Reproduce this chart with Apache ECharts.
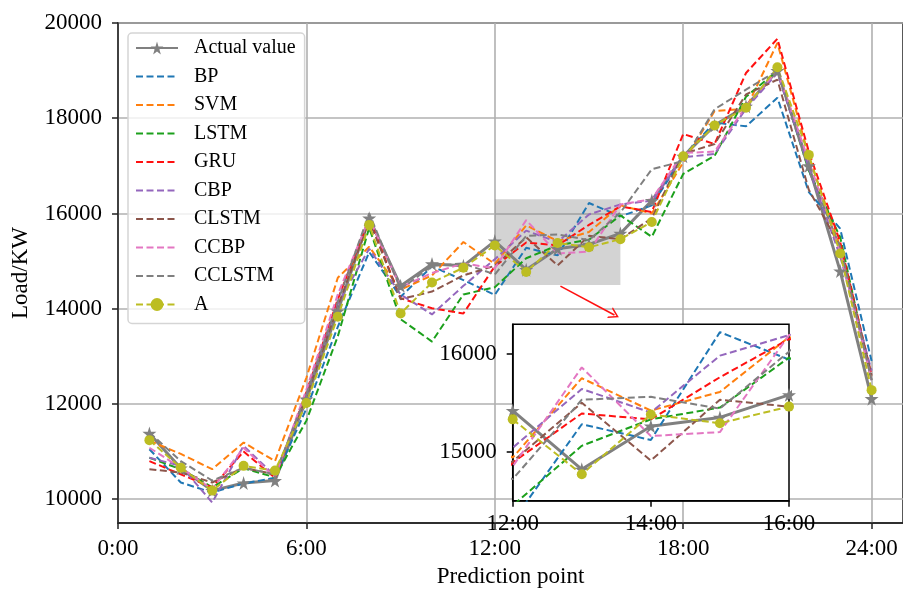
<!DOCTYPE html>
<html><head><meta charset="utf-8">
<script src="https://cdn.jsdelivr.net/npm/echarts@6/dist/echarts.min.js"></script>
<style>html,body{margin:0;padding:0;background:#fff}#c{width:903px;height:593px}</style>
</head><body><div id="c"></div>
<script>
const hours = [1,2,3,4,5,6,7,8,9,10,11,12,13,14,15,16,17,18,19,20,21,22,23,24];
const xTickValues = [0,6,12,18,24];
const yTickValues = [10000,12000,14000,16000,18000,20000];
const insetXTickValues = [12,14,16];
const insetYTickValues = [15000,16000];
const seriesNames = ['Actual value','BP','SVM','LSTM','GRU','CBP','CLSTM','CCBP','CCLSTM','A'];

const actualValue = [11380,10650,10180,10340,10390,12100,13950,15900,14480,14940,14900,15420,14820,15260,15350,15580,16270,17200,17850,18250,19000,17000,14790,12110];
const bp     = [11050,10350,10140,10330,10450,11900,13620,15190,14250,14890,14600,14290,15280,15120,16220,15940,16170,17200,17910,17830,18430,16450,15680,12900];
const svm    = [11230,10950,10630,11190,10800,12550,14650,15300,14400,14700,15400,14940,15750,15420,15610,16170,16000,17070,18150,18200,19580,17200,15300,12500];
const lstm   = [10870,10630,10250,10650,10460,11650,13420,15700,13780,13310,14300,14450,15060,15330,15450,15960,15510,16830,17210,18450,19000,16900,15500,12500];
const gru    = [10800,10520,10250,11000,10450,12250,14200,15890,14220,14010,13900,14890,15390,15330,15760,16150,16030,17670,17460,18950,19670,17300,15400,12600];
const cbp    = [10870,10700,9930,11120,10490,12200,14100,15260,14300,13880,14480,15040,15640,15400,15980,16190,16270,17180,17250,18200,18950,16950,15100,12700];
const clstm  = [10630,10560,10350,10660,10520,12150,14050,15850,14200,14360,14700,14900,15500,14910,15530,15460,15900,17250,17460,18500,18810,16500,15300,12600];
const ccbp   = [11080,10660,10210,11080,10460,12300,14300,15900,14450,14750,14950,14850,15860,15160,15200,16190,16300,17270,17300,18250,19000,17100,15200,12500];
const cclstm = [11400,10800,10390,10660,10520,12200,14150,16000,14410,14900,14950,14720,15530,15560,15440,16020,16930,17100,18190,18600,19000,16900,15300,12500];
const aValue = [11240,10660,10180,10700,10600,12020,13830,15760,13900,14550,14860,15330,14770,15380,15290,15460,15820,17200,17850,18220,19070,17230,15160,12290];

const zoomBox = [[12,14500],[16,16300]];
const arrowFrom = [14.09,14474];
const arrowTo = [15.81,13868];

const allValues = [actualValue,bp,svm,lstm,gru,cbp,clstm,ccbp,cclstm,aValue];
const colors = ['#808080','#1f77b4','#ff7f0e','#1ca01c','#ff1010','#9467bd','#8c564b','#e377c2','#7f7f7f','#bcbd22'];
const FONT = '"Liberation Serif","Times New Roman",serif';
const starPath = 'path://M50,0 L61,35 L98,35 L68,57 L79,91 L50,70 L21,91 L32,57 L2,35 L39,35 Z';

function pairs(vals){ return hours.map((h,i)=>[h,vals[i]]); }

function makeSeries(i, inset){
  const name = seriesNames[i];
  const s = {
    name, type:'line', data: pairs(allValues[i]),
    xAxisIndex: inset?1:0, yAxisIndex: inset?1:0,
    z: inset?7:2, clip:true, animation:false,
    itemStyle:{color:colors[i]},
    lineStyle:{color:colors[i], width:2, type:[7,3.5]},
    symbol:'none'
  };
  if(i===0){
    s.lineStyle = {color:colors[i], width:3, type:'solid'};
    s.symbol = starPath; s.symbolSize = 14; s.showSymbol = true;
  } else if(i===9){
    s.symbol = 'circle'; s.symbolSize = 10; s.showSymbol = true;
  }
  return s;
}

const series = [];
series.push({
  type:'line', data:[], z:1, silent:true, animation:false,
  markArea:{silent:true, itemStyle:{color:'rgba(128,128,128,0.35)'},
    data:[[{coord:zoomBox[0]},{coord:zoomBox[1]}]]},
  markLine:{silent:true, symbol:['none','path://M0,10 L5,0 L10,10 L8.6,10 L5,2.8 L1.4,10 Z'], symbolSize:[12,10],
    label:{show:false}, lineStyle:{color:'#ff1010', width:1.6, type:'solid'},
    data:[[{coord:arrowFrom},{coord:arrowTo}]]}
});
for(let i=0;i<10;i++) series.push(makeSeries(i,false));
for(let i=0;i<10;i++) series.push(makeSeries(i,true));

const legendData = seriesNames.map((n,i)=> (i===0||i===9) ? {name:n} : {name:n, itemStyle:{opacity:0}});

const labelStyle = {color:'#000', fontFamily:FONT, fontSize:23};
const chart = echarts.init(document.getElementById('c'), null, {renderer:'canvas'});
chart.setOption({
  animation:false,
  backgroundColor:'#fff',
  legend:{
    data: legendData, orient:'vertical', left:128, top:33,
    backgroundColor:'rgba(255,255,255,0.8)', borderColor:'#d5d5d5', borderWidth:1.5, borderRadius:4,
    padding:[5,9,9,7], itemGap:8.5, itemWidth:42, itemHeight:16,
    textStyle:{fontFamily:FONT, fontSize:20, color:'#000', padding:[0,0,0,11]},
    selectedMode:false, z:10
  },
  grid:[
    {left:118, top:23, width:788, height:503, show:true, borderColor:'#222', borderWidth:1.5, backgroundColor:'transparent'},
    {left:512.7, top:324.3, width:276.3, height:176.4, show:true, borderColor:'#000', borderWidth:1.5, backgroundColor:'#fff', z:5}
  ],
  xAxis:[
    {type:'value', gridIndex:0, min:0, max:25,
     axisLine:{show:true, lineStyle:{color:'#222', width:1.5}},
     axisTick:{show:true, length:6, lineStyle:{color:'#222', width:1.5}, customValues:xTickValues},
     axisLabel:Object.assign({margin:14, customValues:xTickValues, formatter:v=>v+':00'}, labelStyle),
     splitLine:{show:true, lineStyle:{color:'#b0b0b0', width:1.6}},
     name:'Prediction point', nameLocation:'middle', nameGap:42,
     nameTextStyle:{fontFamily:FONT, fontSize:23, color:'#000'}},
    {type:'value', gridIndex:1, min:12, max:16, z:6,
     axisLine:{show:true, lineStyle:{color:'#000', width:1.5}},
     axisTick:{show:true, length:6, lineStyle:{color:'#000', width:1.5}, customValues:insetXTickValues},
     axisLabel:Object.assign({margin:12, customValues:insetXTickValues, formatter:v=>v+':00'}, labelStyle),
     splitLine:{show:false}}
  ],
  yAxis:[
    {type:'value', gridIndex:0, min:9500, max:20000,
     axisLine:{show:true, lineStyle:{color:'#222', width:1.5}},
     axisTick:{show:true, length:6, lineStyle:{color:'#222', width:1.5}, customValues:yTickValues},
     axisLabel:Object.assign({margin:16, customValues:yTickValues, formatter:v=>String(v)}, labelStyle),
     splitLine:{show:true, lineStyle:{color:'#b0b0b0', width:1.6}},
     name:'Load/KW', nameLocation:'middle', nameGap:86,
     nameTextStyle:{fontFamily:FONT, fontSize:23, color:'#000'}},
    {type:'value', gridIndex:1, min:14500, max:16300, z:6,
     axisLine:{show:true, lineStyle:{color:'#000', width:1.5}},
     axisTick:{show:true, length:6, lineStyle:{color:'#000', width:1.5}, customValues:insetYTickValues},
     axisLabel:Object.assign({margin:16, customValues:insetYTickValues, formatter:v=>String(v)}, labelStyle),
     splitLine:{show:false}}
  ],
  series
});
</script></body></html>
